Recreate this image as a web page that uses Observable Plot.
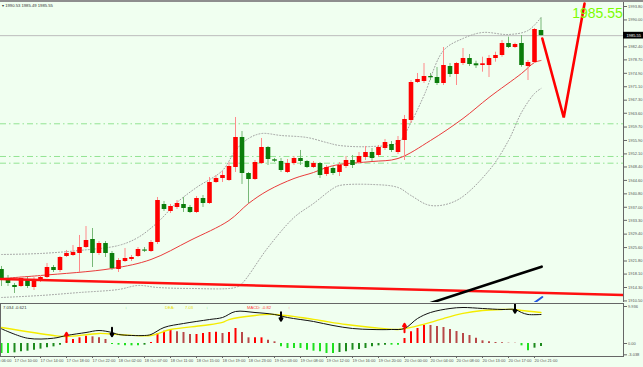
<!DOCTYPE html>
<html><head><meta charset="utf-8">
<script src="https://cdn.jsdelivr.net/npm/d3@7"></script>
<script src="https://cdn.jsdelivr.net/npm/@observablehq/plot@0.6"></script>
<style>
html,body{margin:0;padding:0;background:#f0fff0;}
#wrap{position:relative;width:643px;height:367px;overflow:hidden;background:#f0fff0;font-family:"Liberation Sans",Arial,sans-serif;}
#wrap svg{position:absolute;left:0;}
.lab{position:absolute;font-size:4.2px;line-height:5px;white-space:nowrap;}
</style></head><body><div id="wrap"></div>
<script>
// ---------- price data (H1 candles) ----------
const open = [1919.40,1916.85,1914.88,1914.59,1916.57,1914.31,1916.29,1917.14,1919.96,1919.12,
1923.08,1923.36,1923.93,1925.62,1927.89,1923.93,1926.76,1923.93,1919.40,1921.66,
1922.23,1923.08,1924.92,1924.49,1927.04,1937.79,1935.81,1936.94,1937.79,1936.94,
1935.53,1939.49,1938.07,1944.01,1945.14,1944.58,1948.26,1956.74,1946.56,1944.86,
1949.39,1953.91,1950.43,1949.95,1946.84,1949.39,1950.80,1949.95,1948.26,1949.39,
1946.28,1947.97,1946.84,1948.54,1950.24,1949.67,1951.08,1952.50,1951.65,1953.63,
1954.76,1952.50,1955.89,1961.55,1972.30,1972.59,1974.00,1973.72,1972.02,1976.83,
1974.57,1977.68,1979.09,1977.59,1977.11,1977.11,1979.09,1979.94,1983.34,1982.20,
1983.34,1976.83,1977.96,1987.01];
const high = [1920.25,1917.70,1915.44,1917.42,1917.14,1917.14,1917.70,1921.10,1920.53,1923.08,
1924.78,1926.19,1929.02,1931.56,1931.00,1927.32,1927.32,1924.49,1922.51,1925.34,
1923.36,1925.62,1925.62,1927.60,1939.77,1938.64,1937.79,1938.92,1939.77,1937.51,
1940.05,1940.33,1945.43,1945.99,1947.12,1949.67,1962.40,1958.44,1946.84,1950.24,
1956.46,1954.20,1950.80,1950.80,1950.52,1951.37,1953.07,1950.24,1949.95,1949.67,
1948.82,1948.54,1949.67,1951.37,1951.65,1952.50,1954.20,1953.63,1954.48,1956.18,
1955.61,1957.03,1962.97,1972.87,1974.85,1977.68,1974.85,1976.55,1982.20,1977.68,
1977.96,1981.92,1980.22,1978.33,1979.46,1979.94,1980.87,1984.18,1985.12,1983.42,
1985.60,1978.53,1987.58,1990.53];
const low = [1914.59,1914.59,1912.61,1914.31,1914.03,1913.46,1915.72,1916.85,1918.55,1918.55,
1922.79,1923.08,1918.55,1925.34,1919.96,1923.36,1922.79,1919.12,1918.55,1921.38,
1921.66,1922.79,1924.21,1924.21,1926.47,1935.81,1935.24,1936.37,1935.53,1935.24,
1935.24,1936.94,1937.79,1943.73,1944.01,1944.30,1946.84,1943.45,1938.07,1944.58,
1949.10,1948.82,1949.67,1946.84,1946.56,1948.82,1948.82,1947.97,1947.97,1945.14,
1945.71,1945.99,1945.71,1947.97,1947.97,1949.10,1950.24,1949.95,1951.08,1953.07,
1952.50,1951.93,1950.24,1960.70,1972.02,1972.02,1972.87,1971.45,1971.45,1973.72,
1971.45,1977.11,1976.83,1976.26,1975.22,1973.72,1978.05,1979.46,1981.92,1981.92,
1976.63,1972.87,1977.68,1985.49];
const close = [1916.85,1915.44,1914.31,1916.85,1914.59,1916.57,1917.14,1919.96,1919.12,1922.79,
1923.93,1924.21,1925.62,1927.60,1923.93,1926.76,1923.93,1919.68,1921.95,1922.51,
1922.79,1925.06,1924.58,1927.04,1938.92,1936.37,1937.22,1938.07,1936.66,1935.53,
1939.49,1938.07,1944.01,1945.14,1945.99,1948.54,1956.74,1946.56,1944.86,1949.67,
1953.91,1950.52,1950.04,1947.41,1949.39,1950.80,1949.95,1948.26,1949.39,1945.99,
1948.26,1946.56,1948.82,1950.24,1948.82,1951.37,1952.50,1950.80,1953.91,1955.33,
1953.07,1955.89,1961.83,1972.30,1973.15,1974.00,1973.63,1972.02,1977.11,1974.57,
1977.68,1979.09,1977.39,1977.03,1977.59,1979.09,1979.94,1983.34,1982.20,1983.05,
1977.11,1977.96,1987.30,1985.55];

// moving average (red) read at anchor bars
const maIdx = [0,6,17,23,29,35,38,41,45,48,50,52,57,61,66,71,75,80,82,83];
const maVal = [1916.85,1917.70,1919.68,1922.23,1927.60,1933.26,1938.07,1941.75,1945.14,1946.84,1948.26,1949.10,1949.95,1950.80,1955.89,1962.12,1968.06,1974.85,1977.96,1978.53];
// Bollinger bands (dotted)
const upIdx = [0,6,12,18,21,24,27,30,34,36,38,40,43,47,50,52,57,61,63,65,68,71,74,78,81,83];
const upVal = [1923.64,1923.93,1924.78,1926.19,1928.45,1932.70,1938.35,1942.60,1947.41,1953.07,1956.46,1957.87,1957.31,1956.74,1955.33,1954.48,1954.20,1955.33,1960.99,1968.62,1981.36,1984.75,1986.45,1985.88,1987.01,1990.69];
const loIdx = [0,6,12,18,21,24,29,36,37,41,45,48,51,52,57,61,63,66,70,75,78,80,82,83];
const loVal = [1911.48,1912.04,1912.89,1913.74,1914.88,1914.31,1914.03,1914.31,1915.44,1925.62,1934.11,1938.07,1942.31,1943.16,1943.45,1942.60,1940.33,1937.51,1938.92,1947.41,1955.89,1963.82,1969.19,1970.60];

// drawn objects (bar index, price)
const levelPrices = [1960.62, 1951.37, 1949.47];
const currentPrice = 1985.55;
const redTrendIdx = [-0.154, 95.69], redTrendVal = [1916.71, 1912.19];
const blackTrendIdx = [64, 83.1], blackTrendVal = [1908.7, 1920.2];
const blueTrendIdx = [81.6, 83.2], blueTrendVal = [1909.5, 1911.6];
const zigIdx = [83.2, 86.5, 89.7], zigVal = [1984.75, 1962.40, 1994.65];
const bigLabelIdx = 87.8, bigLabelVal = 1990.69, bigLabelText = "1985.55";

// axis labels
const priceTicks = [1993.80,1990.00,1982.40,1978.70,1974.90,1971.10,1967.30,1963.60,1959.70,1955.90,1952.10,1948.40,1944.60,1940.80,1937.00,1933.30,1929.40,1925.60,1921.80,1918.10,1914.30,1910.50];
const timeIdx = [-2,2,6,10,14,18,22,26,30,34,38,42,46,50,54,58,62,66,70,74,78,82];
const timeLabels = ["17 Oct 06:00","17 Oct 10:00","17 Oct 14:00","17 Oct 18:00","17 Oct 22:00","18 Oct 02:00","18 Oct 07:00","18 Oct 11:00","18 Oct 15:00","18 Oct 19:00","18 Oct 23:00","19 Oct 03:00","19 Oct 08:00","19 Oct 12:00","19 Oct 16:00","19 Oct 20:00","20 Oct 00:00","20 Oct 04:00","20 Oct 08:00","20 Oct 13:00","20 Oct 17:00","20 Oct 21:00"];

// ---------- MACD ----------
const hist = [-2.69,-2.69,-2.51,-2.24,-2.06,-1.79,-1.52,-1.16,-0.90,-0.45,
0.45,1.07,1.52,1.97,1.79,1.52,1.07,-0.27,-0.45,-0.63,
-0.63,-0.63,-0.45,0.30,2.69,3.31,3.58,3.13,2.95,2.42,
2.42,2.69,2.95,3.00,2.69,2.95,4.03,2.95,1.52,1.52,
1.52,0.90,0.45,-0.90,-1.34,-1.34,-1.34,-1.79,-2.06,-2.24,
-2.69,-2.69,-2.42,-2.24,-1.79,-1.61,-1.34,-0.90,-0.63,-0.45,
-0.45,-0.45,1.34,3.13,4.03,4.92,4.83,4.56,4.30,3.76,
3.22,2.69,2.15,1.43,0.72,0.45,0.27,0.18,0.09,0.05,
-0.63,-1.97,-1.25,-0.82];
const difIdx = [0,4,8,10,13,15,17,18,22,23,25,28,32,34,36,39,42,44,48,51,54,57,60,62,64,66,69,71,74,77,79,80,81,83];
const difVal = [3.95,1.42,1.42,2.15,2.95,3.49,2.95,2.42,2.15,2.42,4.30,5.37,6.44,6.98,8.59,8.32,7.79,6.98,5.91,4.83,4.03,3.76,3.76,4.03,6.71,8.32,9.40,9.67,9.40,9.13,9.13,8.32,7.79,7.79];
const deaIdx = [0,8,10,15,18,23,26,31,34,35,39,42,46,49,53,57,61,63,66,68,71,74,77,79,80,83];
const deaVal = [4.30,2.15,1.88,2.69,2.42,2.15,3.76,4.83,5.64,6.44,7.52,7.79,6.98,6.18,5.10,4.30,3.76,4.30,5.64,6.71,8.06,8.86,9.13,9.13,8.86,8.32];
const buyIdx = [10, 62], buyVal = [1.88, 4.30];
const sellIdx = [17, 43, 79], sellVal = [2.95, 7.12, 9.26];
const macdTicks = [9.936, 0, -3.038];
const macdTickText = ["9.936", "0.00", "-3.038"];

// ---------- build ----------
const bars = open.map((o, i) => ({i, o, h: high[i], l: low[i], c: close[i], up: close[i] >= o}));
const pairs = (xs, ys) => xs.map((x, k) => ({i: x, v: ys[k]}));
const xDomain = [-1 / 6.5, 622 / 6.5];
const xMax = xDomain[1];
const font = "Liberation Sans, Arial, sans-serif";

const pricePlot = Plot.plot({
  width: 643, height: 302, marginLeft: 0, marginRight: 20, marginTop: 0, marginBottom: 0,
  x: {domain: xDomain, axis: null},
  y: {domain: [1910.06, 1995.50]},
  style: {background: "transparent", fontFamily: font, fontSize: "4px", color: "#555"},
  marks: [
    Plot.ruleY(levelPrices, {y: d => d, stroke: "#93e493", strokeWidth: 1, strokeDasharray: "6,3,1.5,3"}),
    Plot.ruleY([currentPrice], {stroke: "#bcbcbc", strokeWidth: 1}),
    Plot.line(pairs(upIdx, upVal), {x: "i", y: "v", stroke: "#a0a0a0", strokeWidth: 1, strokeDasharray: "1,2", curve: "catmull-rom"}),
    Plot.line(pairs(loIdx, loVal), {x: "i", y: "v", stroke: "#a0a0a0", strokeWidth: 1, strokeDasharray: "1,2", curve: "catmull-rom"}),
    Plot.line(pairs(maIdx, maVal), {x: "i", y: "v", stroke: "#ea3b3b", strokeWidth: 1, curve: "catmull-rom"}),
    Plot.ruleX(bars, {x: "i", y1: "l", y2: "h", stroke: d => d.up ? "#ff8a8a" : "#77b877", strokeWidth: 1}),
    Plot.ruleX(bars, {x: "i", y1: "o", y2: "c", stroke: d => d.up ? "#ff0000" : "#0b7d0b", strokeWidth: 4.6}),
    Plot.line(pairs(redTrendIdx, redTrendVal), {x: "i", y: "v", stroke: "#ff1010", strokeWidth: 2.6, clip: true}),
    Plot.line(pairs(blackTrendIdx, blackTrendVal), {x: "i", y: "v", stroke: "#000", strokeWidth: 2.6, clip: true}),
    Plot.line(pairs(blueTrendIdx, blueTrendVal), {x: "i", y: "v", stroke: "#2255e0", strokeWidth: 2, clip: true}),
    Plot.line(pairs(zigIdx, zigVal), {x: "i", y: "v", stroke: "#ff0000", strokeWidth: 2.6, strokeLinejoin: "miter"}),
    Plot.text([{i: bigLabelIdx, v: bigLabelVal, t: bigLabelText}], {x: "i", y: "v", text: "t", fill: "#7cfc00", fontSize: 14, textAnchor: "start", lineAnchor: "bottom", fontFamily: font}),
    Plot.ruleX([xMax], {stroke: "#666", strokeWidth: 1}),
    Plot.axisY({anchor: "right", ticks: priceTicks, tickFormat: d => d.toFixed(2), tickSize: 3, tickPadding: 1.5, fontSize: 4, stroke: "#666", fill: "#555"}),
    Plot.rect([{v: currentPrice}], {x1: () => xMax, x2: () => xMax + 3.1, y1: d => d.v - 0.95, y2: d => d.v + 0.95, fill: "#000"}),
    Plot.text([{v: currentPrice}], {x: () => xMax, y: "v", text: d => d.v.toFixed(2), dx: 3, textAnchor: "start", fill: "#fff", fontSize: 4})
  ]
});
pricePlot.style.top = "0px";

const histColor = (d) => {
  const prev = d.i > 0 ? hist[d.i - 1] : d.h;
  if (d.h >= 0) return d.h >= prev ? "#ff0000" : "#b84848";
  return d.h <= prev ? "#1ee01e" : "#1d8a1d";
};
const histData = hist.map((h, i) => ({i, h}));

const macdPlot = Plot.plot({
  width: 643, height: 65, marginLeft: 0, marginRight: 20, marginTop: 1, marginBottom: 11,
  x: {domain: xDomain},
  y: {domain: [-3.49, 10.74]},
  style: {background: "transparent", fontFamily: font, fontSize: "4px", color: "#555"},
  marks: [
    Plot.ruleX(histData, {x: "i", y1: 0, y2: "h", stroke: histColor, strokeWidth: 2}),
    Plot.line(pairs(deaIdx, deaVal), {x: "i", y: "v", stroke: "#f4ec00", strokeWidth: 1.3, curve: "catmull-rom"}),
    Plot.line(pairs(difIdx, difVal), {x: "i", y: "v", stroke: "#111", strokeWidth: 1, curve: "catmull-rom"}),
    Plot.arrow(pairs(buyIdx, buyVal), {x1: "i", x2: "i", y1: d => d.v - 1.3, y2: d => d.v + 1.0, stroke: "#ff0000", strokeWidth: 2, headLength: 4}),
    Plot.arrow(pairs(sellIdx, sellVal), {x1: "i", x2: "i", y1: d => d.v + 1.3, y2: d => d.v - 1.0, stroke: "#000", strokeWidth: 2, headLength: 4}),
    Plot.frame({stroke: "#666"}),
    Plot.axisY({anchor: "right", ticks: macdTicks, tickFormat: d => macdTickText[macdTicks.indexOf(d)], tickSize: 3, tickPadding: 1.5, fontSize: 4, stroke: "#666", fill: "#555"}),
    Plot.axisX({anchor: "bottom", ticks: timeIdx, tickFormat: d => timeLabels[timeIdx.indexOf(d)], tickSize: 2, tickPadding: 1, textAnchor: "start", fontSize: 4, stroke: "#666", fill: "#555", label: null})
  ]
});
macdPlot.style.top = "302px";

const wrap = document.getElementById("wrap");
wrap.appendChild(pricePlot);
wrap.appendChild(macdPlot);

// header and indicator legend
const addLab = (text, left, top, color) => {
  const s = document.createElement("div");
  s.className = "lab"; s.textContent = text;
  s.style.left = left + "px"; s.style.top = top + "px"; s.style.color = color;
  wrap.appendChild(s);
};
const bar = document.createElement("div");
bar.style.cssText = "position:absolute;left:0;top:0;width:643px;height:2px;background:#8e8e8e";
wrap.appendChild(bar);
addLab("\u25BE 1990.53 1985.49 1985.55", 2, 3, "#333");
addLab("7.034 -0.621", 3, 304.5, "#333");
addLab("\u2193", 125, 304.5, "#5ad85a");
addLab("DEA:", 165, 304.5, "#e8dc00");
addLab("7.03", 185, 304.5, "#e8dc00");
addLab("\u2193", 206, 304.5, "#5ad85a");
addLab("MACD:  -0.82", 247, 304.5, "#ff3a3a");
addLab("\u2191", 288, 304.5, "#ff3a3a");
</script>
</body></html>
